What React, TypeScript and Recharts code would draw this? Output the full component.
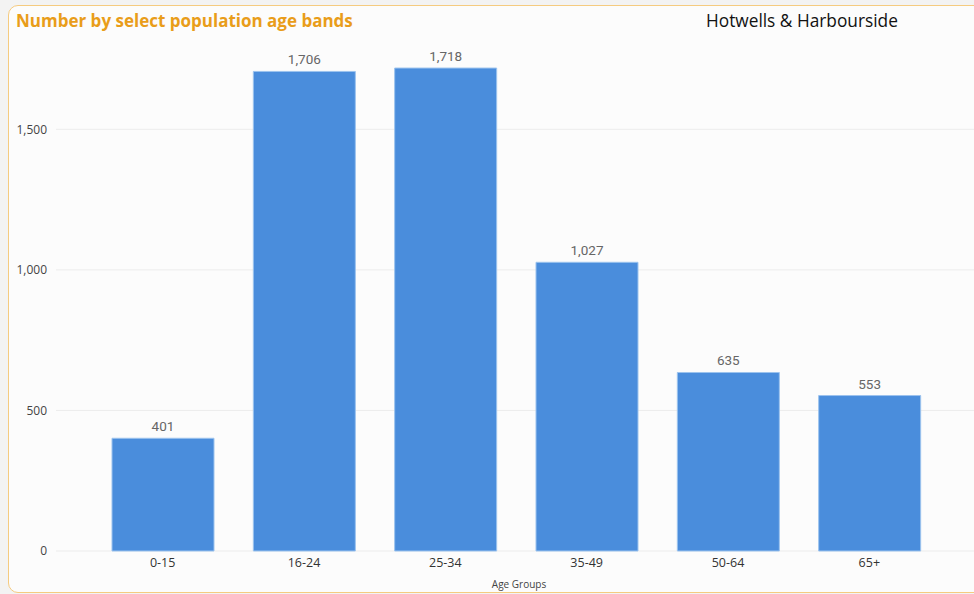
import { BarChart, Bar, XAxis, YAxis, CartesianGrid, LabelList } from 'recharts';

const ageGroups = ['0-15', '16-24', '25-34', '35-49', '50-64', '65+'];
const counts = [401, 1706, 1718, 1027, 635, 553];
const yTicks = [0, 500, 1000, 1500];

const data = ageGroups.map((name, i) => ({ name, count: counts[i] }));

const fmt = (v: number) => v.toLocaleString('en-GB');

const App = () => {
  return (
    <div style={{ position: 'absolute', left: 0, top: 0, width: 974, height: 594, background: '#f3f3f3', overflow: 'hidden' }}>
      <div
        style={{
          position: 'absolute',
          left: 8,
          top: 5,
          width: 990,
          height: 586,
          border: '1.5px solid #f5cb80',
          borderRadius: 10,
          background: '#fcfcfc',
        }}
      />
      <div
        style={{
          position: 'absolute',
          left: 16,
          top: 9,
          fontFamily: '"Open Sans", sans-serif',
          fontWeight: 700,
          fontSize: 17,
          color: '#e99d1a',
          whiteSpace: 'nowrap',
        }}
      >
        Number by select population age bands
      </div>
      <div
        style={{
          position: 'absolute',
          left: 706,
          top: 9,
          fontFamily: '"Open Sans", sans-serif',
          fontWeight: 500,
          fontSize: 17.3,
          color: '#111',
          whiteSpace: 'nowrap',
        }}
      >
        Hotwells &amp; Harbourside
      </div>
      <div style={{ position: 'absolute', left: 0, top: 0 }}>
        <BarChart width={974} height={594} data={data} margin={{ top: 45, right: 0, bottom: 4, left: 0 }}>
          <CartesianGrid vertical={false} horizontalValues={yTicks} stroke="#ececec" />
          <XAxis
            dataKey="name"
            axisLine={false}
            tickLine={false}
            tickSize={0}
            tickMargin={7}
            height={39}
            padding={{ left: 36, right: 34 }}
            tick={{ fill: '#333', fontSize: 12.5, fontFamily: '"Open Sans", sans-serif' }}
            label={{
              value: 'Age Groups',
              position: 'insideBottom',
              offset: 2,
              dx: 4,
              fill: '#444',
              fontSize: 10,
              fontFamily: '"Open Sans", sans-serif',
            }}
          />
          <YAxis
            domain={[0, 1800]}
            ticks={yTicks}
            axisLine={false}
            tickLine={false}
            tickSize={0}
            tickMargin={9}
            width={56}
            tickFormatter={fmt}
            tick={{ fill: '#444', fontSize: 12, fontFamily: '"Open Sans", sans-serif' }}
          />
          <Bar dataKey="count" fill="#4a8ddc" stroke="#9cc3ee" strokeWidth={1} barSize={102} isAnimationActive={false}>
            <LabelList
              dataKey="count"
              position="top"
              offset={7}
              formatter={(v: any) => fmt(Number(v))}
              style={{ fill: '#666', fontSize: 13.5, fontFamily: 'Roboto, sans-serif' }}
            />
          </Bar>
        </BarChart>
      </div>
    </div>
  );
};

export default App;
